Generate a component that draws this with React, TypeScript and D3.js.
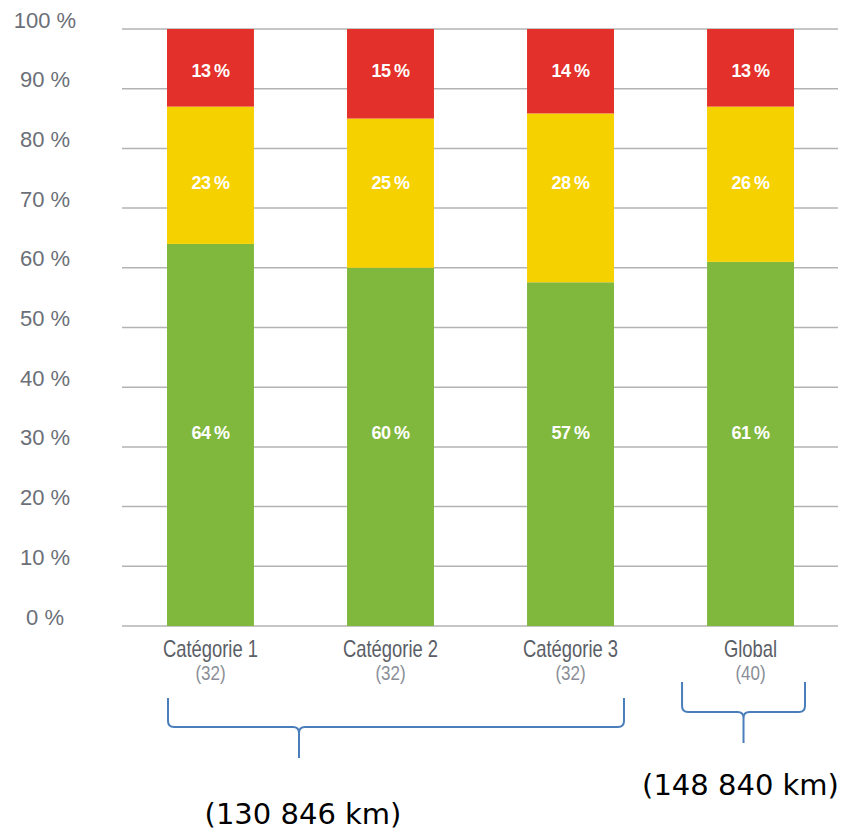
import React from "react";
import * as d3 from "d3";

const categories = ["Catégorie 1", "Catégorie 2", "Catégorie 3", "Global"];
const counts = ["(32)", "(32)", "(32)", "(40)"];
const greenValues = [64, 60, 57, 61];
const yellowValues = [23, 25, 28, 26];
const redValues = [13, 15, 14, 13];
const seriesKeys = ["green", "yellow", "red"];
const seriesColors = ["#80b83e", "#f6d100", "#e4302a"];
const labelLevels = [0.323, 0.742, 0.93];
const yTicks = [0, 0.1, 0.2, 0.3, 0.4, 0.5, 0.6, 0.7, 0.8, 0.9, 1];
const braceGroups = [
  { from: "Catégorie 1", to: "Catégorie 3", label: "(130 846 km)" },
  { from: "Global", to: "Global", label: "(148 840 km)" },
];

const W = 842;
const H = 832;

export default function App() {
  const rows = categories.map((c, i) => ({
    cat: c,
    green: greenValues[i],
    yellow: yellowValues[i],
    red: redValues[i],
  }));
  const stack = d3.stack<any>().keys(seriesKeys).offset(d3.stackOffsetExpand);
  const series = stack(rows);

  const y = d3.scaleLinear().domain([0, 1]).range([626, 29]);
  const x = d3.scaleBand().domain(categories).range([167, 794]).paddingInner(0.517).paddingOuter(0);
  const bw = x.bandwidth();
  const gridX0 = 122;
  const gridX1 = 838;

  const bracePath = (x1: number, x2: number, xt: number, yTop: number, yMid: number, yTip: number) => {
    const r = 6;
    return [
      `M${x1},${yTop}`,
      `L${x1},${yMid - r}`,
      `Q${x1},${yMid} ${x1 + r},${yMid}`,
      `L${xt - r},${yMid}`,
      `Q${xt},${yMid} ${xt},${yMid + r}`,
      `L${xt},${yTip}`,
      `M${xt},${yMid + r}`,
      `Q${xt},${yMid} ${xt + r},${yMid}`,
      `L${x2 - r},${yMid}`,
      `Q${x2},${yMid} ${x2},${yMid - r}`,
      `L${x2},${yTop}`,
    ].join(" ");
  };

  const b1 = braceGroups[0];
  const b2 = braceGroups[1];
  const b1x1 = (x(b1.from) as number) + 1;
  const b1x2 = (x(b1.to) as number) + bw + 10;
  const b1xt = b1x1 + 131;
  const b2x1 = (x(b2.from) as number) - 25;
  const b2x2 = (x(b2.to) as number) + bw + 11;
  const b2xt = (b2x1 + b2x2) / 2;

  return (
    <svg
      width={W}
      height={H}
      style={{ position: "absolute", left: 0, top: 0, background: "#fff" }}
    >
      <rect x={0} y={0} width={W} height={H} fill="#fff" />
      {yTicks.map((t) => (
        <g key={t}>
          <line x1={gridX0} x2={gridX1} y1={y(t)} y2={y(t)} stroke="#b3b3b3" strokeWidth={1.5} />
          <text
            x={45}
            y={y(t) - 9}
            textAnchor="middle"
            dominantBaseline="central"
            fontFamily="Liberation Sans, Arial, sans-serif"
            fontSize={22}
            fill="#6b6f78"
          >
            {`${Math.round(t * 100)} %`}
          </text>
        </g>
      ))}
      {series.map((s, si) => (
        <g key={s.key} fill={seriesColors[si]}>
          {s.map((d: any, i: number) => (
            <rect
              key={i}
              x={x(categories[i])}
              y={y(d[1])}
              width={bw}
              height={y(d[0]) - y(d[1])}
            />
          ))}
        </g>
      ))}
      {series.map((s, si) => (
        <g key={"l" + s.key}>
          {s.map((d: any, i: number) => (
            <text
              key={i}
              x={(x(categories[i]) as number) + bw / 2}
              y={y(labelLevels[si])}
              textAnchor="middle"
              dominantBaseline="central"
              fontFamily="Liberation Sans, Arial, sans-serif"
              fontWeight="bold"
              fontSize={18}
              letterSpacing={-0.4}
              fill="#fff"
            >
              {`${[greenValues, yellowValues, redValues][si][i]}\u2009%`}
            </text>
          ))}
        </g>
      ))}
      {categories.map((c, i) => {
        const cx = (x(c) as number) + bw / 2;
        return (
          <g key={c}>
            <g transform={`translate(${cx},657) scale(0.8,1)`}>
              <text
                textAnchor="middle"
                fontFamily="Liberation Sans, Arial, sans-serif"
                fontSize={23}
                fill="#5a5e66"
              >
                {c}
              </text>
            </g>
            <g transform={`translate(${cx},680) scale(0.85,1)`}>
              <text
                textAnchor="middle"
                fontFamily="Liberation Sans, Arial, sans-serif"
                fontSize={20}
                fill="#8a8e96"
              >
                {counts[i]}
              </text>
            </g>
          </g>
        );
      })}
      <path d={bracePath(b1x1, b1x2, b1xt, 698, 727, 758)} fill="none" stroke="#4a7ebb" strokeWidth={2} />
      <path d={bracePath(b2x1, b2x2, b2xt, 682, 712, 743)} fill="none" stroke="#4a7ebb" strokeWidth={2} />
      <text
        x={b1xt + 4}
        y={824}
        textAnchor="middle"
        fontFamily="DejaVu Sans, sans-serif"
        fontSize={29}
        fill="#000"
      >
        {b1.label}
      </text>
      <text
        x={b2xt - 3}
        y={795}
        textAnchor="middle"
        fontFamily="DejaVu Sans, sans-serif"
        fontSize={29}
        fill="#000"
      >
        {b2.label}
      </text>
    </svg>
  );
}
